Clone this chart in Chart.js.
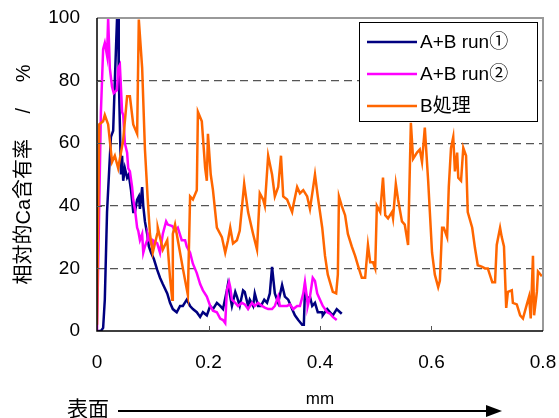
<!DOCTYPE html>
<html>
<head>
<meta charset="utf-8">
<script src="https://cdn.jsdelivr.net/npm/chart.js@4/dist/chart.umd.min.js"></script>
<style>
  html, body { margin: 0; padding: 0; background: #fff; }
</style>
</head>
<body>
<canvas id="grafica" width="559" height="418"></canvas>
<script>
// profundidad (mm) y contenido relativo de Ca (%)
const runUnoX = [0, 0.007, 0.011, 0.014, 0.018, 0.022, 0.025, 0.029, 0.032, 0.036, 0.038, 0.039, 0.041, 0.043, 0.045, 0.047, 0.050, 0.054, 0.057, 0.061, 0.065, 0.068, 0.072, 0.075, 0.077, 0.081, 0.083, 0.086, 0.090, 0.093, 0.097, 0.102, 0.108, 0.113, 0.118, 0.126, 0.131, 0.136, 0.143, 0.149, 0.154, 0.161, 0.167, 0.172, 0.179, 0.185, 0.190, 0.197, 0.203, 0.208, 0.215, 0.221, 0.226, 0.233, 0.235, 0.242, 0.248, 0.251, 0.256, 0.262, 0.265, 0.271, 0.274, 0.280, 0.283, 0.289, 0.294, 0.300, 0.305, 0.310, 0.314, 0.319, 0.325, 0.332, 0.337, 0.343, 0.350, 0.355, 0.361, 0.368, 0.371, 0.373, 0.377, 0.382, 0.386, 0.391, 0.396, 0.404, 0.405, 0.413, 0.418, 0.423, 0.430, 0.436, 0.439];
const runUnoY = [0, 0, 1, 10, 38, 52, 62, 64, 80, 100, 100, 82, 66, 50, 56, 48, 52, 49, 50, 45, 38, 38, 42, 43, 39, 46, 40, 35, 31, 27, 25, 23, 19.5, 17, 15, 12, 9, 7, 6, 8, 8, 10, 8, 7, 6, 4.5, 6, 5, 8, 7, 9, 8, 7, 13, 15, 8, 12.5, 11, 8, 13, 12.5, 8, 10, 8, 12, 8, 8, 10, 9, 12, 20.5, 12, 9, 14.7, 11, 10, 7, 5, 3.5, 2, 2, 13, 10, 11, 8, 9, 6, 6, 5, 7, 6, 5, 7, 6, 5.5];

const runDosX = [0, 0.004, 0.007, 0.011, 0.014, 0.018, 0.020, 0.023, 0.027, 0.030, 0.036, 0.038, 0.041, 0.045, 0.047, 0.050, 0.054, 0.056, 0.059, 0.063, 0.065, 0.068, 0.072, 0.074, 0.077, 0.081, 0.083, 0.086, 0.090, 0.091, 0.095, 0.099, 0.100, 0.108, 0.113, 0.118, 0.124, 0.127, 0.135, 0.140, 0.145, 0.152, 0.158, 0.161, 0.167, 0.172, 0.179, 0.185, 0.190, 0.197, 0.203, 0.208, 0.215, 0.221, 0.226, 0.230, 0.233, 0.237, 0.239, 0.242, 0.248, 0.253, 0.260, 0.265, 0.271, 0.278, 0.283, 0.289, 0.296, 0.301, 0.307, 0.314, 0.319, 0.325, 0.328, 0.334, 0.341, 0.346, 0.352, 0.359, 0.364, 0.370, 0.373, 0.377, 0.378, 0.382, 0.387, 0.391, 0.395, 0.400, 0.405, 0.413, 0.418, 0.423, 0.430];
const runDosY = [0, 40, 70, 90, 92, 88, 100, 84, 78, 76, 77, 84, 85, 70, 69, 60, 57, 52, 51, 46, 42, 39, 33, 32, 29, 31, 25, 27, 29, 31, 29, 27, 29, 28, 25, 31, 35, 34, 33.5, 32, 33, 29, 29, 27, 25, 21.5, 18.5, 15, 13, 11, 8, 6.5, 6, 4, 3.5, 2.5, 13, 15.6, 14, 10, 9, 8, 9, 8.5, 7, 9, 8, 9, 8, 7.5, 7, 7, 8, 11, 8, 8, 8, 8.5, 7, 8, 8, 12, 15.6, 10, 8, 11, 17, 16, 12, 10, 8, 6, 5.5, 4.5, 3.5];

const tratBX = [0, 0.004, 0.011, 0.014, 0.020, 0.027, 0.032, 0.038, 0.047, 0.054, 0.059, 0.065, 0.072, 0.075, 0.081, 0.086, 0.091, 0.095, 0.100, 0.108, 0.109, 0.113, 0.118, 0.126, 0.131, 0.135, 0.136, 0.140, 0.145, 0.154, 0.163, 0.167, 0.172, 0.179, 0.181, 0.188, 0.194, 0.197, 0.199, 0.204, 0.208, 0.215, 0.224, 0.230, 0.235, 0.239, 0.244, 0.251, 0.256, 0.264, 0.271, 0.280, 0.287, 0.292, 0.298, 0.301, 0.307, 0.314, 0.319, 0.325, 0.330, 0.334, 0.341, 0.350, 0.352, 0.359, 0.364, 0.370, 0.377, 0.382, 0.387, 0.391, 0.396, 0.404, 0.409, 0.414, 0.423, 0.429, 0.432, 0.434, 0.439, 0.445, 0.450, 0.457, 0.463, 0.468, 0.475, 0.481, 0.486, 0.490, 0.495, 0.499, 0.502, 0.508, 0.513, 0.517, 0.522, 0.529, 0.531, 0.536, 0.540, 0.547, 0.552, 0.558, 0.563, 0.567, 0.574, 0.579, 0.583, 0.588, 0.594, 0.601, 0.606, 0.612, 0.615, 0.619, 0.622, 0.628, 0.631, 0.635, 0.639, 0.642, 0.646, 0.648, 0.653, 0.657, 0.662, 0.665, 0.673, 0.678, 0.683, 0.691, 0.696, 0.701, 0.709, 0.714, 0.717, 0.723, 0.726, 0.730, 0.734, 0.737, 0.744, 0.746, 0.753, 0.759, 0.764, 0.771, 0.775, 0.778, 0.782, 0.784, 0.789, 0.791, 0.798];
const tratBY = [2, 66, 67, 69, 66, 54, 56, 52, 61, 75, 75, 66, 63, 99.5, 84, 58, 42, 31, 25, 31, 33, 30, 26, 29, 17, 10, 31, 34, 29, 20, 11.5, 43, 42, 45, 70, 67, 52, 48, 63, 50, 45, 33, 30, 25, 29, 33, 28, 29, 32, 47, 38, 31, 26, 44, 42, 40, 56, 50, 43, 46, 56, 43, 42, 38, 40, 46, 44, 45, 43, 39, 45, 50, 43, 33, 24, 18, 12.5, 12, 18, 43, 40, 37, 31, 27, 24, 21, 17, 17, 27.5, 22, 22, 20, 40, 38, 49, 37, 36, 38, 36, 47, 42, 35, 34, 27.5, 66.5, 55, 57, 58, 54, 65, 48, 25, 18, 14, 16, 33, 33, 30, 46, 58.5, 62, 51, 57, 49, 48, 58.5, 56, 38, 33, 26.5, 21, 20.5, 20, 20, 15.6, 15.6, 27.5, 33, 30, 27, 7.4, 12.5, 13, 9, 8.5, 5, 4, 8.5, 11, 4, 24, 5, 12.5, 19, 17.5];

const etiquetas = ["A+B run\u2460", "A+B run\u2461", "B処理"];
const colores = ["#000080", "#ff00ff", "#ff6600"];
const ticksX = [0, 0.2, 0.4, 0.6, 0.8];
const ticksY = [0, 20, 40, 60, 80, 100];

const fuente = '"Liberation Sans", "Noto Sans CJK JP", sans-serif';
Chart.defaults.font.family = fuente;
Chart.defaults.color = "#000";

function puntos(xs, ys) {
    return xs.map(function (x, i) { return {x: x, y: ys[i]}; });
}

// leyenda con recuadro dentro del area del grafico
const leyendaCaja = {
    id: 'leyendaCaja',
    afterDatasetsDraw: function (chart) {
        const ctx = chart.ctx;
        const area = chart.chartArea;
        const w = 178, h = 99;
        const left = area.right - 6 - w, top = area.top + 4;
        ctx.save();
        ctx.fillStyle = "#fff";
        ctx.fillRect(left, top, w, h);
        ctx.strokeStyle = "#000";
        ctx.lineWidth = 1;
        ctx.strokeRect(left + 0.5, top + 0.5, w, h);
        ctx.font = "19px " + fuente;
        ctx.textBaseline = "middle";
        chart.data.datasets.forEach(function (ds, i) {
            const y = top + 20 + i * 32;
            ctx.strokeStyle = ds.borderColor;
            ctx.lineWidth = 2.5;
            ctx.beginPath();
            ctx.moveTo(left + 8, y);
            ctx.lineTo(left + 58, y);
            ctx.stroke();
            ctx.fillStyle = "#000";
            ctx.fillText(ds.label, left + 61, y + 1);
        });
        ctx.restore();
    }
};

// marco, marcas hacia dentro y flecha de "表面"
const marco = {
    id: 'marco',
    afterDraw: function (chart) {
        const ctx = chart.ctx;
        const a = chart.chartArea;
        const sx = chart.scales.x, sy = chart.scales.y;
        ctx.save();
        ctx.strokeStyle = "#999";
        ctx.lineWidth = 2;
        ctx.beginPath();
        ctx.moveTo(a.left, a.top);
        ctx.lineTo(a.right, a.top);
        ctx.lineTo(a.right, a.bottom);
        ctx.stroke();
        ctx.strokeStyle = "#000";
        ctx.lineWidth = 1.5;
        ctx.beginPath();
        ctx.moveTo(a.left, a.top);
        ctx.lineTo(a.left, a.bottom);
        ctx.lineTo(a.right, a.bottom);
        ctx.stroke();
        ctx.strokeStyle = "#555";
        ctx.lineWidth = 1;
        ctx.beginPath();
        ticksX.slice(1, -1).forEach(function (v) {
            const px = Math.round(sx.getPixelForValue(v)) + 0.5;
            ctx.moveTo(px, a.bottom);
            ctx.lineTo(px, a.bottom - 5);
        });
        ticksY.slice(1, -1).forEach(function (v) {
            const py = Math.round(sy.getPixelForValue(v)) + 0.5;
            ctx.moveTo(a.left, py);
            ctx.lineTo(a.left + 5, py);
        });
        ctx.stroke();

        ctx.fillStyle = "#000";
        ctx.font = "21px " + fuente;
        ctx.textBaseline = "middle";
        ctx.fillText("表面", 67, 410);
        ctx.strokeStyle = "#000";
        ctx.lineWidth = 2;
        ctx.beginPath();
        ctx.moveTo(118, 411);
        ctx.lineTo(488, 411);
        ctx.stroke();
        ctx.beginPath();
        ctx.moveTo(502, 411);
        ctx.lineTo(486, 405);
        ctx.lineTo(486, 417);
        ctx.closePath();
        ctx.fill();
        ctx.restore();
    }
};

const datos = {
    datasets: [{
        label: etiquetas[0],
        data: puntos(runUnoX, runUnoY),
        borderColor: colores[0],
        order: 2
    }, {
        label: etiquetas[1],
        data: puntos(runDosX, runDosY),
        borderColor: colores[1],
        order: 1
    }, {
        label: etiquetas[2],
        data: puntos(tratBX, tratBY),
        borderColor: colores[2],
        order: 0
    }]
};

const opciones = {
    responsive: false,
    animation: false,
    layout: {padding: {top: 18, right: 16, left: 0, bottom: 0}},
    elements: {
        line: {borderWidth: 2.5, tension: 0, fill: false},
        point: {radius: 0}
    },
    plugins: {legend: {display: false}, tooltip: {enabled: false}},
    scales: {
        x: {
            type: 'linear',
            min: 0,
            max: 0.8,
            afterBuildTicks: function (s) { s.ticks = ticksX.map(function (v) { return {value: v}; }); },
            afterFit: function (s) {
                s.height = 87;
                s.paddingLeft = 0;
                s.paddingRight = 0;
            },
            ticks: {font: {size: 19}, padding: 20, maxRotation: 0, callback: function (v) { return String(v); }},
            grid: {display: false, drawTicks: false},
            border: {display: false},
            title: {display: true, text: 'mm', font: {size: 17}, padding: {top: 0, bottom: 8}}
        },
        y: {
            min: 0,
            max: 100,
            afterBuildTicks: function (s) { s.ticks = ticksY.map(function (v) { return {value: v}; }); },
            afterFit: function (s) {
                s.width = 97;
                s.paddingTop = 0;
                s.paddingBottom = 0;
            },
            ticks: {font: {size: 19}, padding: 17},
            grid: {
                drawTicks: false,
                lineWidth: 1.3,
                color: function (c) {
                    return (c.tick && (c.tick.value === 0 || c.tick.value === 100)) ? 'rgba(0,0,0,0)' : '#555';
                }
            },
            border: {display: false, dash: [8, 5]},
            title: {display: true, text: '相対的Ca含有率　 /　 %', font: {size: 20}, padding: {top: 12, bottom: 0}}
        }
    }
};

var grafica = new Chart("grafica", {
    type: 'line',
    data: datos,
    options: opciones,
    plugins: [leyendaCaja, marco]
});
</script>
</body>
</html>
